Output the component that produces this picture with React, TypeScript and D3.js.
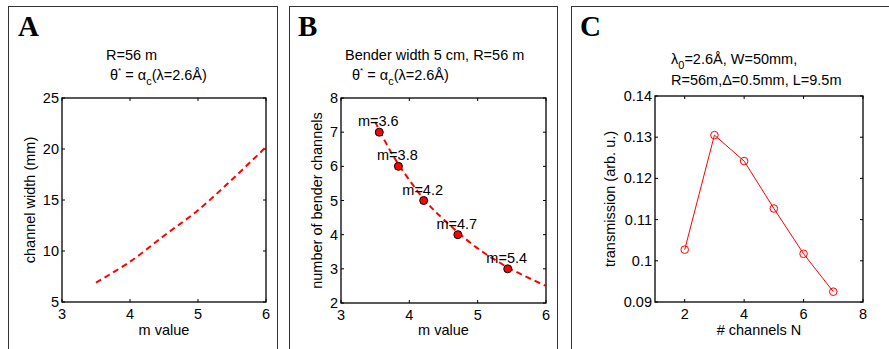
import React from "react";
import * as d3 from "d3";

// Panel A: channel width vs m value
const aM = [3.5, 4.0, 4.5, 5.0, 5.5, 6.0];
const aWidth = [6.9, 8.95, 11.5, 14.0, 17.0, 20.2];
const aXTicks = [3, 4, 5, 6];
const aYTicks = [5, 10, 15, 20, 25];

// Panel B: number of bender channels vs m value
const bCurveM = [3.5, 3.75, 4.0, 4.25, 4.5, 5.0, 5.5, 6.0];
const bCurveN = [7.3, 6.35, 5.6, 4.95, 4.45, 3.6, 2.98, 2.5];
const bPointM = [3.56, 3.84, 4.21, 4.71, 5.44];
const bPointN = [7, 6, 5, 4, 3];
const bLabels = ["m=3.6", "m=3.8", "m=4.2", "m=4.7", "m=5.4"];
const bXTicks = [3, 4, 5, 6];
const bYTicks = [2, 3, 4, 5, 6, 7, 8];

// Panel C: transmission vs # channels
const cN = [2, 3, 4, 5, 6, 7];
const cT = [0.1027, 0.1305, 0.1242, 0.1127, 0.1017, 0.0925];
const cXTicks = [2, 4, 6, 8];
const cYTicks = [0.09, 0.1, 0.11, 0.12, 0.13, 0.14];
const cYTickLabels = ["0.09", "0.1", "0.11", "0.12", "0.13", "0.14"];

const SANS = "'Liberation Sans', Arial, Helvetica, sans-serif";
const SERIF = "'Liberation Serif', 'Times New Roman', serif";
const RED = "#ff0000";
const FS = 14.5;

type Box = { l: number; r: number; t: number; b: number };

function Frame({ box, x, y, xTicks, yTicks, yLabels }: any) {
  const tl = 3;
  return (
    <g>
      <rect x={box.l} y={box.t} width={box.r - box.l} height={box.b - box.t} fill="none" stroke="#000" strokeWidth={1.3} />
      {xTicks.map((v: number, i: number) => (
        <g key={"x" + i}>
          <line x1={x(v)} x2={x(v)} y1={box.b} y2={box.b - tl} stroke="#000" />
          <line x1={x(v)} x2={x(v)} y1={box.t} y2={box.t + tl} stroke="#000" />
          <text x={x(v)} y={box.b + 17} textAnchor="middle" fontSize={FS} fontFamily={SANS}>{String(v)}</text>
        </g>
      ))}
      {yTicks.map((v: number, i: number) => (
        <g key={"y" + i}>
          <line x1={box.l} x2={box.l + tl} y1={y(v)} y2={y(v)} stroke="#000" />
          <line x1={box.r} x2={box.r - tl} y1={y(v)} y2={y(v)} stroke="#000" />
          <text x={box.l - 3} y={y(v) + 5} textAnchor="end" fontSize={FS} fontFamily={SANS}>{yLabels ? yLabels[i] : String(v)}</text>
        </g>
      ))}
    </g>
  );
}

function ThetaLine({ x, y }: { x: number; y: number }) {
  return (
    <text x={x} y={y} fontSize={FS} fontFamily={SANS}>
      θ<tspan dy={-7} fontSize={8}>*</tspan>
      <tspan dy={7}> = α</tspan>
      <tspan dy={5} fontSize={11}>c</tspan>
      <tspan dy={-5}>(λ=2.6Å)</tspan>
    </text>
  );
}

export default function App() {
  // Panel A
  const boxA: Box = { l: 62, r: 266, t: 98, b: 302 };
  const xA = d3.scaleLinear().domain([3, 6]).range([boxA.l, boxA.r]);
  const yA = d3.scaleLinear().domain([5, 25]).range([boxA.b, boxA.t]);
  const lineA = d3.line<number>().x((_, i) => xA(aM[i])).y((d) => yA(d)).curve(d3.curveCatmullRom);

  // Panel B
  const boxB: Box = { l: 341, r: 546, t: 98, b: 303 };
  const xB = d3.scaleLinear().domain([3, 6]).range([boxB.l, boxB.r]);
  const yB = d3.scaleLinear().domain([2, 8]).range([boxB.b, boxB.t]);
  const lineB = d3.line<number>().x((_, i) => xB(bCurveM[i])).y((d) => yB(d)).curve(d3.curveCatmullRom);

  // Panel C
  const boxC: Box = { l: 655, r: 863, t: 96, b: 302 };
  const xC = d3.scaleLinear().domain([1, 8]).range([boxC.l, boxC.r]);
  const yC = d3.scaleLinear().domain([0.09, 0.14]).range([boxC.b, boxC.t]);
  const lineC = d3.line<number>().x((_, i) => xC(cN[i])).y((d) => yC(d));

  return (
    <svg width={889} height={349} style={{ position: "absolute", left: 0, top: 0, display: "block" }}>
      <rect x={0} y={0} width={889} height={349} fill="#fff" />
      {/* panel borders */}
      <rect x={8.5} y={6.5} width={269} height={345} fill="none" stroke="#333" strokeWidth={1} />
      <rect x={289.5} y={6.5} width={268} height={345} fill="none" stroke="#333" strokeWidth={1} />
      <rect x={571.5} y={6.5} width={330} height={345} fill="none" stroke="#333" strokeWidth={1} />

      {/* panel letters */}
      <text x={18} y={36} fontSize={29} fontWeight="bold" fontFamily={SERIF}>A</text>
      <text x={298} y={36} fontSize={29} fontWeight="bold" fontFamily={SERIF}>B</text>
      <text x={580} y={36} fontSize={29} fontWeight="bold" fontFamily={SERIF}>C</text>

      {/* Panel A */}
      <text x={106} y={60} fontSize={FS} fontFamily={SANS}>R=56 m</text>
      <ThetaLine x={110} y={80} />
      <Frame box={boxA} x={xA} y={yA} xTicks={aXTicks} yTicks={aYTicks} />
      <path d={lineA(aWidth) || ""} fill="none" stroke={RED} strokeWidth={2} strokeDasharray="6,4" />
      <text x={(boxA.l + boxA.r) / 2} y={335} textAnchor="middle" fontSize={FS} fontFamily={SANS}>m value</text>
      <text transform={`translate(35,${(boxA.t + boxA.b) / 2}) rotate(-90)`} textAnchor="middle" fontSize={FS} fontFamily={SANS}>channel width (mm)</text>

      {/* Panel B */}
      <text x={345} y={60} fontSize={FS} fontFamily={SANS}>Bender width 5 cm, R=56 m</text>
      <ThetaLine x={352} y={80} />
      <Frame box={boxB} x={xB} y={yB} xTicks={bXTicks} yTicks={bYTicks} />
      <path d={lineB(bCurveN) || ""} fill="none" stroke={RED} strokeWidth={2} strokeDasharray="6,4" />
      {bPointM.map((m, i) => (
        <g key={i}>
          <circle cx={xB(m)} cy={yB(bPointN[i])} r={4} fill={RED} stroke="#000" strokeWidth={1} />
          <text x={xB(m) - 1} y={yB(bPointN[i]) - 6} textAnchor="middle" fontSize={FS} fontFamily={SANS}>{bLabels[i]}</text>
        </g>
      ))}
      <text x={(boxB.l + boxB.r) / 2} y={335} textAnchor="middle" fontSize={FS} fontFamily={SANS}>m value</text>
      <text transform={`translate(322,${(boxB.t + boxB.b) / 2}) rotate(-90)`} textAnchor="middle" fontSize={FS} fontFamily={SANS}>number of bender channels</text>

      {/* Panel C */}
      <text x={671} y={64} fontSize={FS} fontFamily={SANS}>
        λ<tspan dy={5} fontSize={11}>0</tspan>
        <tspan dy={-5}>=2.6Å, W=50mm,</tspan>
      </text>
      <text x={671} y={85} fontSize={FS} fontFamily={SANS}>R=56m,Δ=0.5mm, L=9.5m</text>
      <Frame box={boxC} x={xC} y={yC} xTicks={cXTicks} yTicks={cYTicks} yLabels={cYTickLabels} />
      <path d={lineC(cT) || ""} fill="none" stroke={RED} strokeWidth={1} />
      {cN.map((n, i) => (
        <circle key={i} cx={xC(n)} cy={yC(cT[i])} r={3.8} fill="none" stroke={RED} strokeWidth={1} />
      ))}
      <text x={(boxC.l + boxC.r) / 2} y={335} textAnchor="middle" fontSize={FS} fontFamily={SANS}># channels N</text>
      <text transform={`translate(615,${(boxC.t + boxC.b) / 2}) rotate(-90)`} textAnchor="middle" fontSize={FS} fontFamily={SANS}>transmission (arb. u.)</text>
    </svg>
  );
}
